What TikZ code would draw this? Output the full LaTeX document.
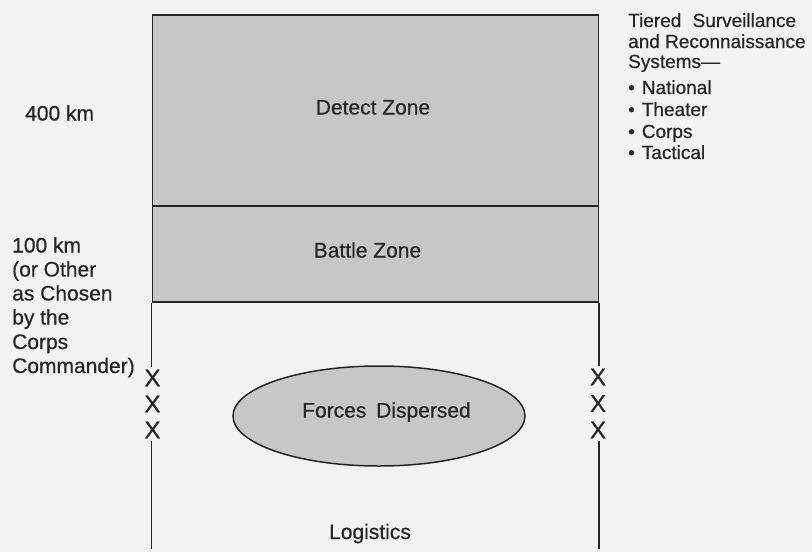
\documentclass[tikz,border=0pt]{standalone}
\usepackage{fontspec}
\setmainfont{Liberation Sans}[BoldFont={Liberation Sans}, BoldFeatures={FakeBold=0.5}]
\usetikzlibrary{shapes.geometric}
\definecolor{paper}{gray}{0.95}
\definecolor{zonefill}{gray}{0.78}
\definecolor{ink}{gray}{0.15}
\begin{document}
\begin{tikzpicture}[x=1pt,y=-1pt,
  zone/.style={draw=ink, line width=1.5pt, fill=zonefill, rectangle, inner sep=0pt, anchor=north west, minimum width=446pt},
  zonelabel/.style={text=ink, font=\fontsize{21}{24}\selectfont\bfseries, inner sep=0pt, anchor=base},
  lefttext/.style={text=ink, font=\fontsize{21}{24}\selectfont\bfseries, inner sep=0pt, anchor=base west},
  righttext/.style={text=ink, font=\fontsize{19}{21}\selectfont\bfseries, inner sep=0pt, anchor=base west},
  xmark/.style={text=ink, font=\fontsize{24}{24}\selectfont\bfseries, inner xsep=0pt, inner ysep=3pt},
  edge/.style={draw=ink, line width=1.5pt}]
\fill[paper] (0,0) rectangle (812,552);
\useasboundingbox (0,0) rectangle (812,552);

% zones
\node[zone, minimum height=191pt] (detect) at (151.5,14) {};
\node[zone, minimum height=96pt] (battle) at (151.5,205) {};
\node[zonelabel] (detectlbl) at (373,114.5) {Detect Zone};
\node[zonelabel] (battlelbl) at (367.5,257.5) {Battle Zone};

% forces
\node[ellipse, draw=ink, line width=1.5pt, fill=zonefill, minimum width=292pt, minimum height=100pt, inner sep=0pt] (forces) at (379,416) {};
\node[zonelabel] (forceslbl) at (386.5,417.5) {Forces\hspace{4pt} Dispersed};
\node[zonelabel] (logistics) at (370,539) {Logistics};

% X marks
\node[xmark] (xl1) at (152.5,378) {X};
\node[xmark] (xl2) at (152.5,404) {X};
\node[xmark] (xl3) at (152.5,430) {X};
\node[xmark] (xr1) at (598,377) {X};
\node[xmark] (xr2) at (598,403.5) {X};
\node[xmark] (xr3) at (598,430) {X};

\coordinate (lbottom) at (152,549);
\coordinate (rbottom) at (597.5,549);

\draw[edge] (battle.south west) -- (battle.south west |- xl1.north);
\draw[edge] (xl3.south -| battle.south west) -- (battle.south west |- lbottom);
\draw[edge] (battle.south east) -- (battle.south east |- xr1.north);
\draw[edge] (xr3.south -| battle.south east) -- (battle.south east |- rbottom);

% left texts
\node[lefttext] (km400) at (25,120.5) {400 km};
\node[lefttext] (l1) at (12,252.5) {100 km};
\node[lefttext] (l2) at (12,276.5) {(or Other};
\node[lefttext] (l3) at (12,300.5) {as Chosen};
\node[lefttext] (l4) at (12,324.5) {by the};
\node[lefttext] (l5) at (12,349) {Corps};
\node[lefttext] (l6) at (12,373) {Commander)};

% right texts
\node[righttext] (r1) at (628,27) {Tiered\hspace{6pt} Surveillance};
\node[righttext] (r2) at (628,48) {and Reconnaissance};
\node[righttext] (r3) at (628,68) {Systems—};
\node[righttext] (r4) at (628,94) {\textbullet\hspace{7pt}National};
\node[righttext] (r5) at (628,116) {\textbullet\hspace{7pt}Theater};
\node[righttext] (r6) at (628,138) {\textbullet\hspace{7pt}Corps};
\node[righttext] (r7) at (628,159) {\textbullet\hspace{7pt}Tactical};
\end{tikzpicture}
\end{document}
